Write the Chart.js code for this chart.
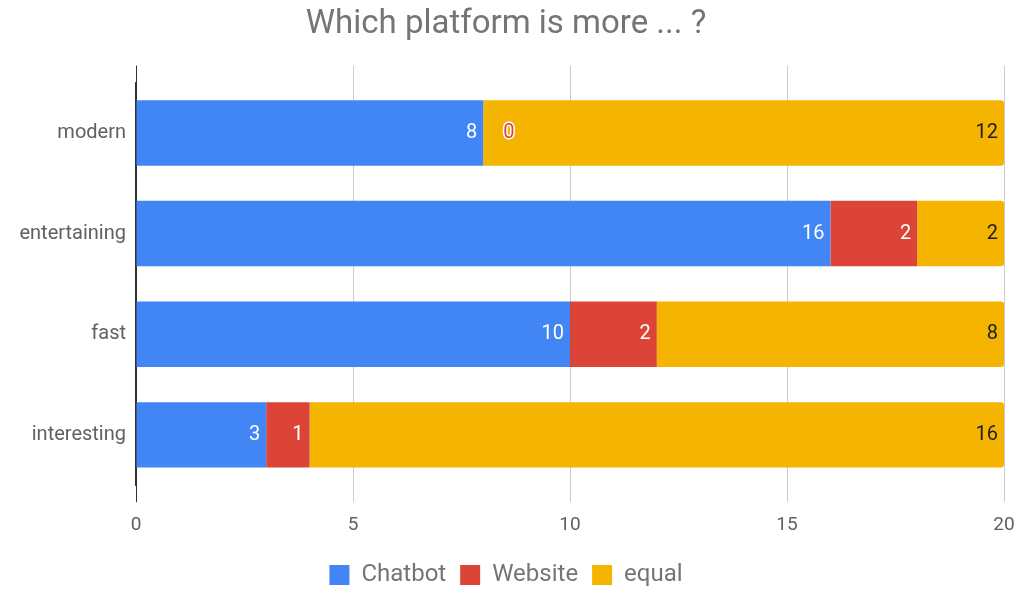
<!DOCTYPE html>
<html>
<head>
<meta charset="utf-8">
<script src="https://cdn.jsdelivr.net/npm/chart.js@4"></script>
<style>
  html, body { margin: 0; padding: 0; background: #fff; }
  #wrap { width: 1023px; height: 591px; }
</style>
</head>
<body>
<div id="wrap"><canvas id="myChart" width="1023" height="591"></canvas></div>
<script>
// categories + series values
const categories = ['modern', 'entertaining', 'fast', 'interesting']
const chatbot = [8, 16, 10, 3]
const website = [0, 2, 2, 1]
const equal = [12, 2, 8, 16]
const xTicks = [0, 5, 10, 15, 20]

const labelColors = ['#ffffff', '#ffffff', '#212121']

// draws the value labels at the end of every bar
const barLabels = {
    id: 'barLabels',
    afterDatasetsDraw: (chart) => {
        const {ctx} = chart
        ctx.save()
        ctx.font = '20px Roboto'
        ctx.textBaseline = 'middle'
        chart.data.datasets.forEach((ds, i) => {
            const meta = chart.getDatasetMeta(i)
            meta.data.forEach((el, j) => {
                const v = ds.data[j]
                if (v === 0) {
                    // zero value: red text with a white halo, right of the bar
                    ctx.textAlign = 'left'
                    ctx.lineWidth = 3
                    ctx.strokeStyle = '#ffffff'
                    ctx.strokeText(String(v), el.x + 20, el.y)
                    ctx.fillStyle = ds.backgroundColor
                    ctx.fillText(String(v), el.x + 20, el.y)
                } else {
                    ctx.textAlign = 'right'
                    ctx.fillStyle = labelColors[i]
                    ctx.fillText(String(v), el.x - 6, el.y)
                }
            })
        })
        ctx.restore()
    }
}

const gridColor = (c) => (c.tick && c.tick.value === 0) ? '#333333' : '#cccccc'

new Chart(document.getElementById('myChart'), {
    type: 'bar',
    data: {
        labels: categories,
        datasets: [{
            label: 'Chatbot',
            data: chatbot,
            backgroundColor: '#4285f4'
        }, {
            label: 'Website',
            data: website,
            backgroundColor: '#db4437'
        }, {
            label: 'equal',
            data: equal,
            backgroundColor: '#f4b400',
            borderRadius: {topRight: 3, bottomRight: 3},
            borderSkipped: false
        }]
    },
    options: {
        indexAxis: 'y',
        responsive: false,
        animation: false,
        categoryPercentage: 1,
        barPercentage: 0.65,
        layout: {padding: {left: 8, right: 19, top: 0, bottom: -6}},
        scales: {
            x: {
                stacked: true,
                min: 0,
                max: 20,
                afterBuildTicks: (s) => { s.ticks = xTicks.map(v => ({value: v})) },
                afterFit: (s) => { s.paddingRight = 0 },
                grid: {color: gridColor, tickLength: 17, lineWidth: 1},
                border: {display: false},
                ticks: {color: '#616161', font: {family: 'Roboto', size: 19}, padding: 12}
            },
            x2: {
                position: 'top',
                min: 0,
                max: 20,
                afterBuildTicks: (s) => { s.ticks = xTicks.map(v => ({value: v})) },
                afterFit: (s) => { s.paddingRight = 0 },
                grid: {color: gridColor, tickLength: 17, drawOnChartArea: false},
                border: {display: false},
                ticks: {display: false}
            },
            y: {
                stacked: true,
                afterFit: (s) => { s.width = 128 },
                grid: {display: false},
                border: {display: true, color: '#333333', width: 1.5},
                ticks: {color: '#616161', font: {family: 'Roboto', size: 20}, padding: 2}
            }
        },
        plugins: {
            title: {
                display: true,
                text: 'Which platform is more ... ?',
                color: '#757575',
                font: {family: 'Roboto', size: 33, weight: 'normal'},
                padding: {top: 5, bottom: 21}
            },
            legend: {
                position: 'bottom',
                labels: {
                    color: '#757575',
                    font: {family: 'Roboto', size: 24},
                    boxWidth: 20,
                    boxHeight: 20,
                    padding: 14
                }
            },
            tooltip: {enabled: false}
        }
    },
    plugins: [barLabels]
})
</script>
</body>
</html>
